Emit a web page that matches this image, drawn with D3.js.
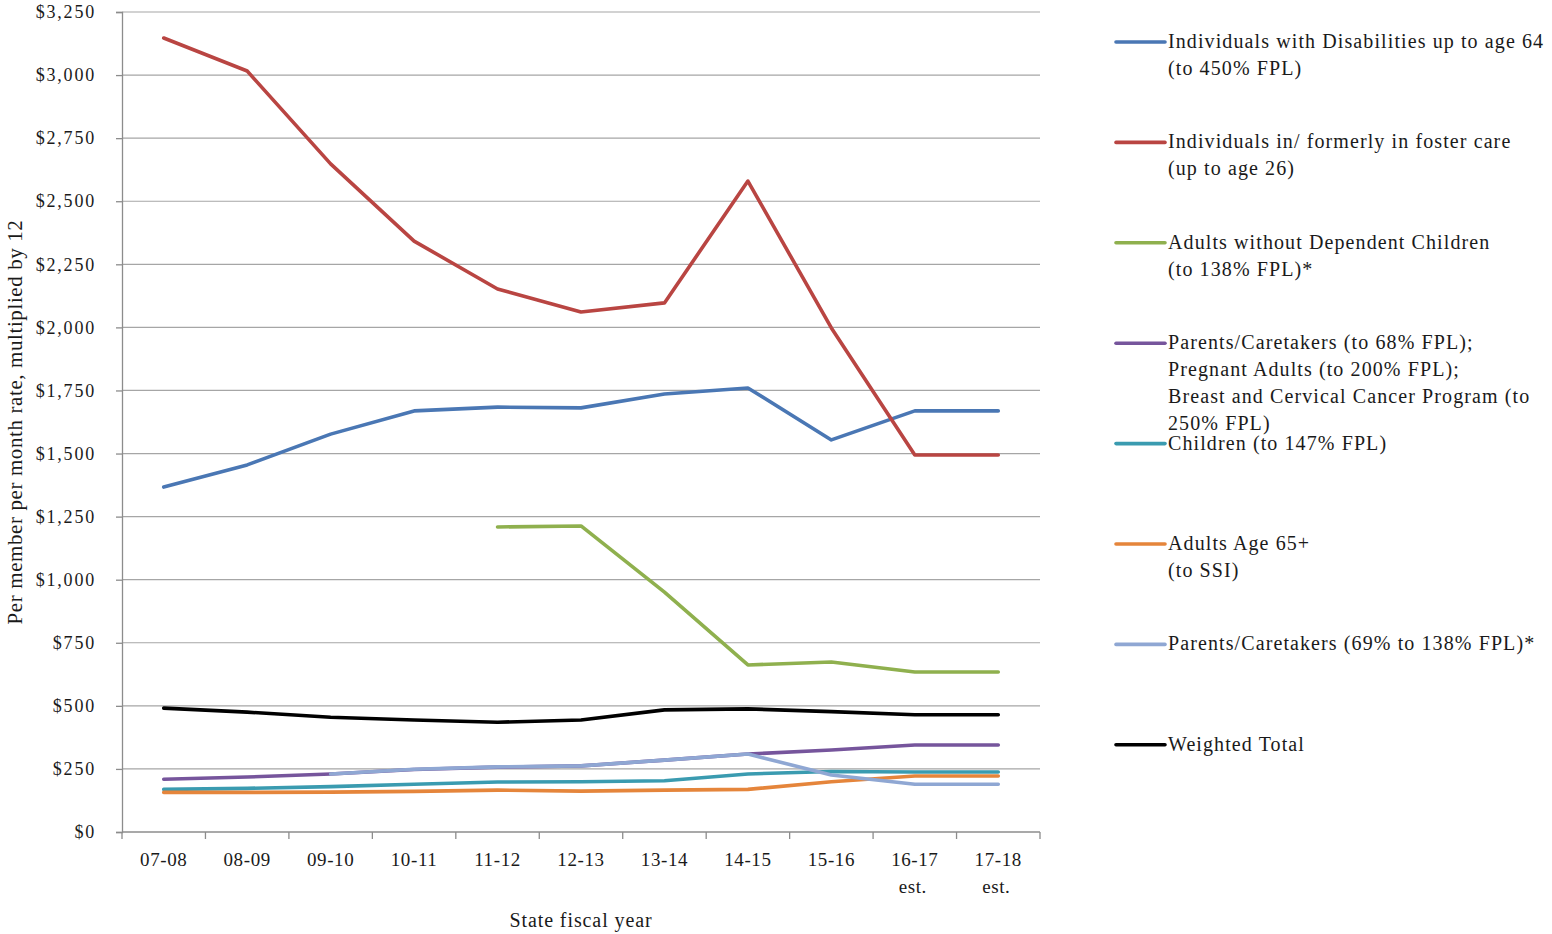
<!DOCTYPE html>
<html>
<head>
<meta charset="utf-8">
<script src="https://cdn.jsdelivr.net/npm/d3@7"></script>
<style>
  html, body { margin: 0; padding: 0; background: #fff; }
  svg text { font-family: "Liberation Serif", "DejaVu Serif", serif; fill: #1a1a1a; }
</style>
</head>
<body>
<svg id="chart" width="1552" height="934"></svg>
<script>
// Fiscal years on the x axis (second line = estimate marker)
const years = ["07-08", "08-09", "09-10", "10-11", "11-12", "12-13", "13-14", "14-15", "15-16", "16-17", "17-18"];
const yearNotes = ["", "", "", "", "", "", "", "", "", "est.", "est."];

// Per member per month rate x 12, by eligibility group (null = no enrollment that year)
const disabilities = [1367, 1455, 1577, 1669, 1684, 1681, 1736, 1760, 1554, 1669, 1669];
const fosterCare   = [3147, 3016, 2648, 2342, 2152, 2061, 2097, 2580, 1998, 1494, 1494];
const adultsNoKids = [null, null, null, null, 1209, 1213, 951, 662, 674, 634, 634];
const parentsLow   = [209, 218, 230, 248, 257, 262, 285, 309, 325, 345, 345];
const children     = [169, 173, 180, 189, 198, 199, 203, 230, 240, 238, 238];
const adults65     = [157, 157, 158, 161, 166, 162, 166, 169, 199, 222, 222];
const parentsHigh  = [null, null, 230, 249, 258, 262, 285, 309, 226, 189, 189];
const weighted     = [491, 475, 455, 444, 435, 444, 484, 488, 477, 465, 465];

const yTicks = [0, 250, 500, 750, 1000, 1250, 1500, 1750, 2000, 2250, 2500, 2750, 3000, 3250];

const series = [
  { label: ["Individuals with Disabilities up to age 64", "(to 450% FPL)"], values: disabilities, color: "#4a77b4" },
  { label: ["Individuals in/ formerly in foster care", "(up to age 26)"], values: fosterCare, color: "#b94542" },
  { label: ["Adults without Dependent Children", "(to 138% FPL)*"], values: adultsNoKids, color: "#8fb04e" },
  { label: ["Parents/Caretakers (to 68% FPL);", "Pregnant Adults (to 200% FPL);", "Breast and Cervical Cancer Program (to", "250% FPL)"], values: parentsLow, color: "#76559c" },
  { label: ["Children (to 147% FPL)"], values: children, color: "#3a9bb0" },
  { label: ["Adults Age 65+", "(to SSI)"], values: adults65, color: "#e5853b" },
  { label: ["Parents/Caretakers (69% to 138% FPL)*"], values: parentsHigh, color: "#8fa7d3" },
  { label: ["Weighted Total"], values: weighted, color: "#000000" }
];

const svg = d3.select("#chart");
const plot = { left: 122, right: 1040, top: 12, bottom: 832 };

const x = d3.scaleBand().domain(years).range([plot.left, plot.right]);
const y = d3.scaleLinear().domain([0, 3250]).range([plot.bottom, plot.top]);

// Horizontal gridlines
svg.append("g")
  .selectAll("line")
  .data(yTicks.filter(d => d > 0))
  .join("line")
  .attr("x1", plot.left).attr("x2", plot.right)
  .attr("y1", d => y(d)).attr("y2", d => y(d))
  .attr("stroke", "#a6a6a6").attr("stroke-width", 1.2);

// Y axis
const yAxis = svg.append("g")
  .attr("transform", `translate(${plot.left},0)`)
  .call(d3.axisLeft(y).tickValues(yTicks).tickSize(6).tickPadding(20)
    .tickFormat(d => "$" + d3.format(",")(d)));
yAxis.select(".domain").attr("stroke", "#8c8c8c").attr("stroke-width", 1.3);
yAxis.selectAll(".tick line").attr("stroke", "#8c8c8c").attr("stroke-width", 1.3);
yAxis.selectAll(".tick text").attr("font-size", 18).attr("fill", "#1a1a1a")
  .attr("letter-spacing", 1.8)
  .style("font-family", "'Liberation Serif', serif");

// X axis: ticks at band boundaries
const xAxisG = svg.append("g").attr("transform", `translate(0,${plot.bottom})`);
xAxisG.append("line")
  .attr("x1", plot.left).attr("x2", plot.right)
  .attr("y1", 0).attr("y2", 0)
  .attr("stroke", "#8c8c8c").attr("stroke-width", 1.3);
const bounds = years.map(d => x(d)).concat([x(years[years.length - 1]) + x.bandwidth()]);
xAxisG.selectAll("line.tk")
  .data(bounds)
  .join("line").attr("class", "tk")
  .attr("x1", d => d).attr("x2", d => d)
  .attr("y1", 0).attr("y2", 7)
  .attr("stroke", "#8c8c8c").attr("stroke-width", 1.3);
const xl = xAxisG.selectAll("text.yr")
  .data(years)
  .join("text").attr("class", "yr")
  .attr("x", d => x(d) + x.bandwidth() / 2)
  .attr("y", 34)
  .attr("text-anchor", "middle")
  .attr("font-size", 19)
  .attr("letter-spacing", 0.6);
xl.append("tspan").text(d => d);
xl.append("tspan")
  .attr("x", d => x(d) + x.bandwidth() / 2 - 2)
  .attr("dy", 27)
  .text((d, i) => yearNotes[i]);

// Axis titles
svg.append("text")
  .attr("x", (plot.left + plot.right) / 2)
  .attr("y", 927)
  .attr("text-anchor", "middle")
  .attr("font-size", 20)
  .attr("letter-spacing", 0.9)
  .text("State fiscal year");

svg.append("text")
  .attr("transform", `translate(22,${(plot.top + plot.bottom) / 2}) rotate(-90)`)
  .attr("text-anchor", "middle")
  .attr("font-size", 21)
  .attr("letter-spacing", 0.6)
  .text("Per member per month rate, multiplied by 12");

// Series lines
const line = d3.line()
  .defined(d => d != null)
  .x((d, i) => x(years[i]) + x.bandwidth() / 2)
  .y(d => y(d));

svg.append("g")
  .selectAll("path")
  .data(series)
  .join("path")
  .attr("d", s => line(s.values))
  .attr("fill", "none")
  .attr("stroke", s => s.color)
  .attr("stroke-width", 3.6)
  .attr("stroke-linejoin", "round")
  .attr("stroke-linecap", "round");

// Legend
const legend = svg.append("g").attr("transform", "translate(1116,42)");
const item = legend.selectAll("g")
  .data(series)
  .join("g")
  .attr("transform", (d, i) => `translate(0,${i * 100.4})`);
item.append("line")
  .attr("x1", 0).attr("x2", 49)
  .attr("y1", 0).attr("y2", 0)
  .attr("stroke", d => d.color)
  .attr("stroke-width", 3.6)
  .attr("stroke-linecap", "round");
item.append("text")
  .attr("x", 52)
  .attr("y", 6)
  .attr("font-size", 20)
  .attr("letter-spacing", 1.1)
  .selectAll("tspan")
  .data(d => d.label)
  .join("tspan")
  .attr("x", 52)
  .attr("dy", (d, i) => i === 0 ? 0 : 26.8)
  .text(d => d);
</script>
</body>
</html>
